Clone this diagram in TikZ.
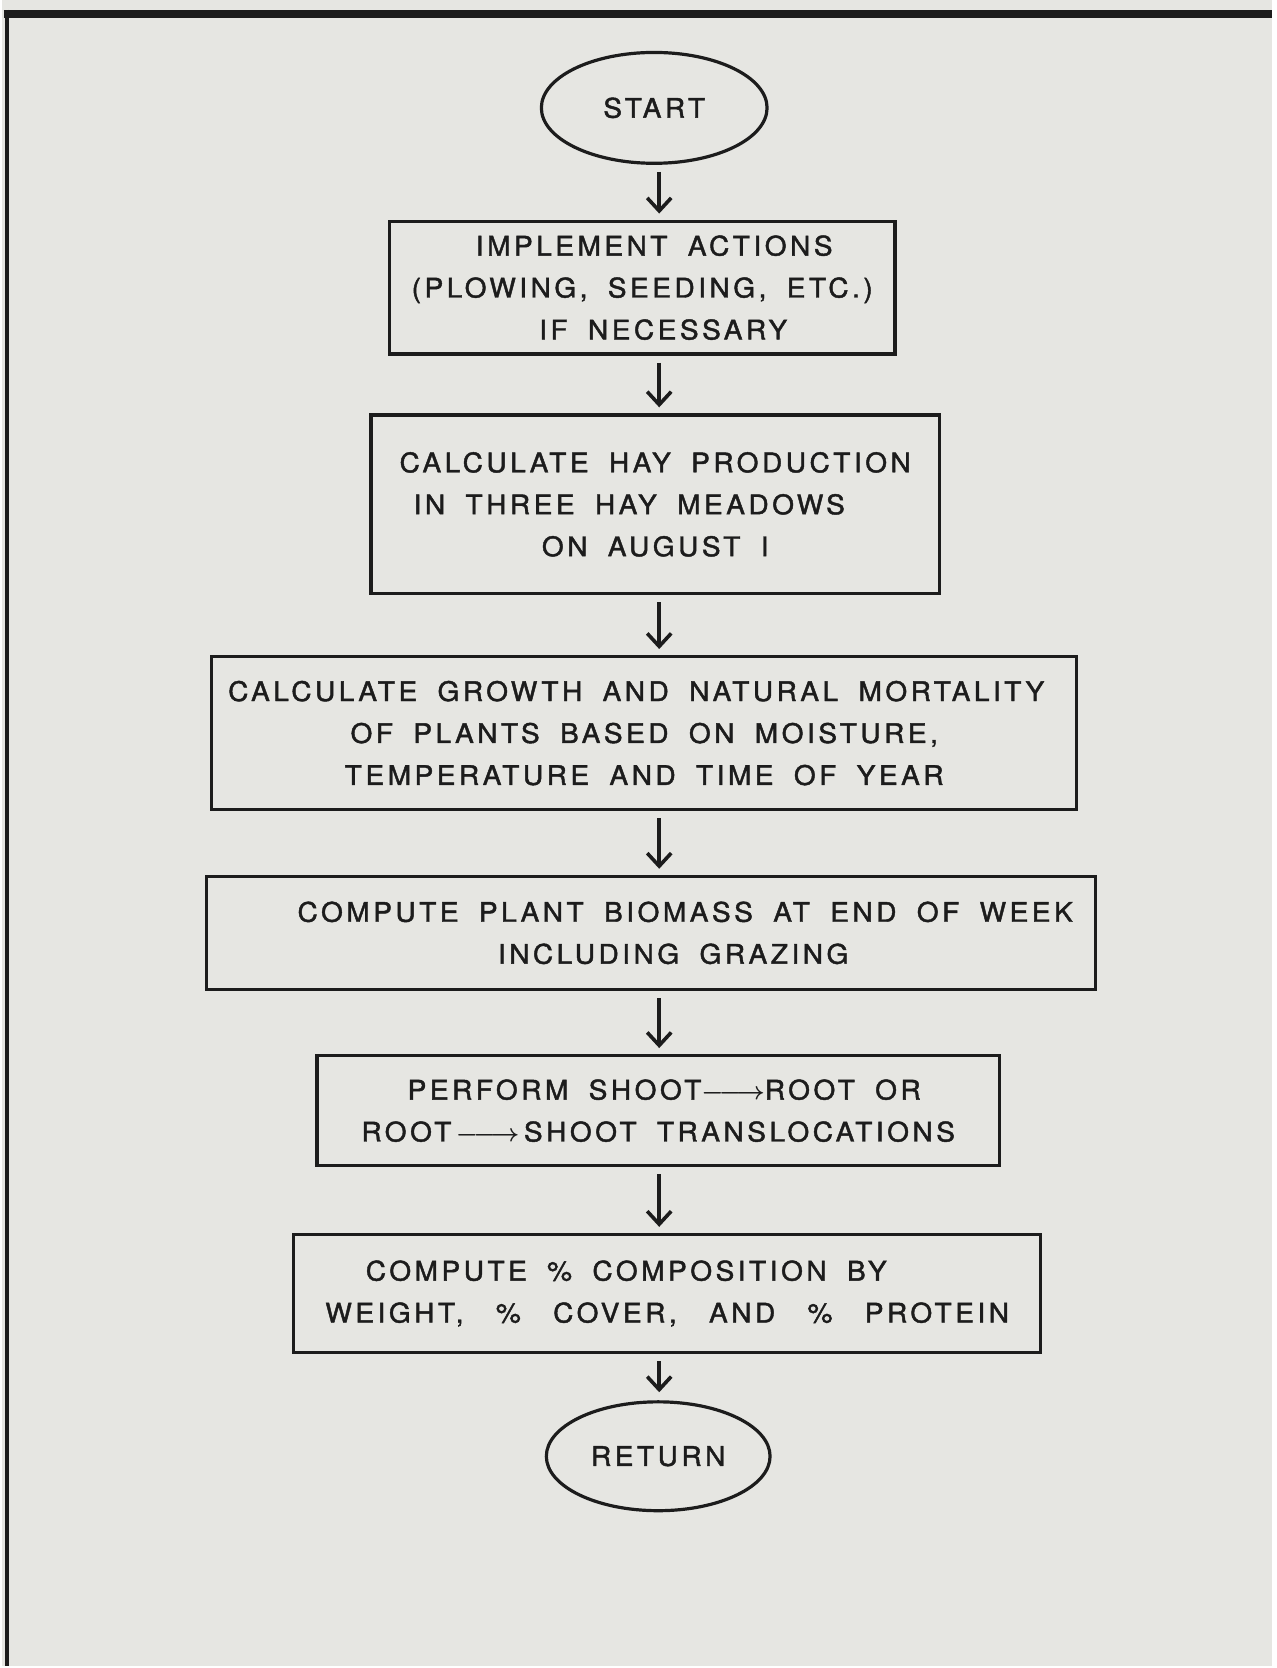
\documentclass[tikz,border=0pt]{standalone}
\usepackage{fontspec}
\setmainfont{TeX Gyre Heros}[LetterSpace=13,WordSpace=1.8,FakeStretch=1.04,FakeBold=1.6]
\usetikzlibrary{arrows.meta,shapes.geometric}
\definecolor{paper}{RGB}{230,230,226}
\definecolor{ink}{RGB}{28,28,28}

\begin{document}
\begin{tikzpicture}[x=1pt,y=-1pt,text centered,
  every node/.style={font=\fontsize{27}{42}\selectfont,text=ink},
  box/.style={draw=ink,line width=3.4pt,rectangle,align=center,inner sep=0pt},
  oval/.style={draw=ink,line width=3.2pt,ellipse,inner sep=0pt},
  flow/.style={draw=ink,line width=3.6pt,-{Straight Barb[length=13pt,width=24pt]},
    shorten <=7pt,shorten >=6pt}]

%% page and the cut frame (top and left edge only)
\fill[paper] (0,0) rectangle (1272,1668);
\draw[ink,line width=8pt] (2,14) -- (1272,14);
\draw[ink,line width=4pt] (5,10) -- (5,1668);

\coordinate (06580000) at (658,0);

\node (06530108) at (653,108) [oval,minimum width=226pt,minimum height=111pt] {START};
\node (06410288) at (641,288) [box,minimum width=506pt,minimum height=133pt]
  {\hspace*{24pt}IMPLEMENT ACTIONS\\ (PLOWING, SEEDING, ETC.)\\ \hspace*{42pt}IF NECESSARY};
\node (06540505) at (654,505) [box,minimum width=569pt,minimum height=179pt]
  {CALCULATE HAY PRODUCTION\\ \hspace*{-52pt}IN THREE HAY MEADOWS\\ ON AUGUST I};
\node (06430734) at (643,734) [box,minimum width=866pt,minimum height=153pt]
  {\hspace*{-16pt}CALCULATE GROWTH AND NATURAL MORTALITY\\ OF PLANTS BASED ON MOISTURE,\\ TEMPERATURE AND TIME OF YEAR};
\node (06500934) at (650,934) [box,minimum width=890pt,minimum height=113pt]
  {\hspace*{68pt}COMPUTE PLANT BIOMASS AT END OF WEEK\\ \hspace*{44pt}INCLUDING GRAZING};
\node (06571112) at (657,1112) [box,minimum width=683pt,minimum height=110pt]
  {\hspace*{12pt}PERFORM SHOOT\mbox{\boldmath$\relbar\joinrel\longrightarrow$}ROOT OR\\
   ROOT\,\mbox{\boldmath$\relbar\joinrel\longrightarrow$}\,SHOOT TRANSLOCATIONS};
\node (06661295) at (666,1295) [box,minimum width=748pt,minimum height=118pt]
  {\hspace*{-82pt}COMPUTE \% COMPOSITION BY\\
   WEIGHT,\hspace{12pt} \%\hspace{12pt} COVER,\hspace{12pt} AND\hspace{12pt} \%\hspace{12pt} PROTEIN};
\node (06571458) at (657,1458) [oval,minimum width=224pt,minimum height=109pt] {RETURN};

\draw[flow] (06530108.south -| 06580000) -- (06410288.north -| 06580000);
\draw[flow] (06410288.south -| 06580000) -- (06540505.north -| 06580000);
\draw[flow] (06540505.south -| 06580000) -- (06430734.north -| 06580000);
\draw[flow] (06430734.south -| 06580000) -- (06500934.north -| 06580000);
\draw[flow] (06500934.south -| 06580000) -- (06571112.north -| 06580000);
\draw[flow] (06571112.south -| 06580000) -- (06661295.north -| 06580000);
\draw[flow,shorten >=8pt] (06661295.south -| 06580000) -- (06571458.north -| 06580000);

\end{tikzpicture}
\end{document}
